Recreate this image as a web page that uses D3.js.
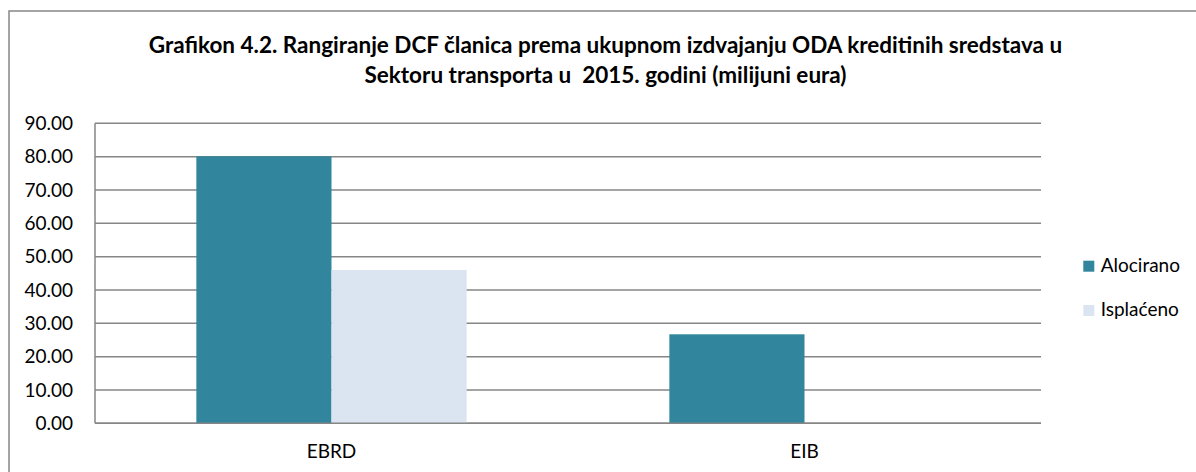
<!DOCTYPE html>
<html lang="en">
<head>
  <meta charset="UTF-8">
  <title>Grafikon 4.2</title>
  <script src="https://d3js.org/d3.v7.min.js"></script>
  <style>
    body { margin: 0; padding: 0; background: white; overflow: hidden; }
    svg text { font-family: Lato, "Open Sans", sans-serif; fill: #000; }
  </style>
</head>
<body>
  <svg id="chart" width="1196" height="472"></svg>
  <script>
    // Chart data
    const categories = ["EBRD", "EIB"];
    const seriesNames = ["Alocirano", "Isplaćeno"];
    const alocirano = [80.1, 26.7];
    const isplaceno = [46.0, 0];
    const yTicks = [0, 10, 20, 30, 40, 50, 60, 70, 80, 90];
    const titleLines = [
      "Grafikon 4.2. Rangiranje DCF članica prema ukupnom izdvajanju ODA kreditinih sredstava u",
      "Sektoru transporta u  2015. godini (milijuni eura)"
    ];
    const colors = ["#31859C", "#DBE5F1"];

    const svg = d3.select("#chart");

    // Outer chart border (runs off the right and bottom of the picture)
    svg.append("rect")
      .attr("x", 9).attr("y", 11)
      .attr("width", 1300).attr("height", 600)
      .attr("fill", "none")
      .attr("stroke", "#868686")
      .attr("stroke-width", 1.5);

    // Title
    svg.append("g").selectAll("text")
      .data(titleLines)
      .join("text")
      .attr("x", 605.5)
      .attr("y", (d, i) => 53 + i * 30)
      .attr("text-anchor", "middle")
      .attr("font-size", "22.5px")
      .attr("font-weight", "bold")
      .style("white-space", "pre")
      .text(d => d);

    // Plot area
    const plotLeft = 95, plotRight = 1041, plotTop = 123.3, plotBottom = 423.3;

    const x = d3.scaleBand()
      .domain(categories)
      .range([plotLeft, plotRight]);

    const xInner = d3.scaleBand()
      .domain(seriesNames)
      .range([0, x.bandwidth()])
      .paddingOuter(0.75);

    const y = d3.scaleLinear()
      .domain([0, 90])
      .range([plotBottom, plotTop]);

    // Gridlines
    svg.append("g").selectAll("line")
      .data(yTicks)
      .join("line")
      .attr("x1", plotLeft).attr("x2", plotRight)
      .attr("y1", d => y(d)).attr("y2", d => y(d))
      .attr("stroke", "#868686")
      .attr("stroke-width", 1.5);

    // Left axis line
    svg.append("line")
      .attr("x1", plotLeft).attr("x2", plotLeft)
      .attr("y1", plotTop).attr("y2", plotBottom)
      .attr("stroke", "#868686")
      .attr("stroke-width", 1.5);

    // Y tick labels
    svg.append("g").selectAll("text")
      .data(yTicks)
      .join("text")
      .attr("x", 73)
      .attr("y", d => y(d) + 6.7)
      .attr("text-anchor", "end")
      .attr("font-size", "19px")
      .text(d => d3.format(".2f")(d));

    // Bars
    const series = [alocirano, isplaceno];
    series.forEach((vals, si) => {
      svg.append("g").selectAll("rect")
        .data(vals.map((v, i) => ({ cat: categories[i], v })))
        .join("rect")
        .attr("x", d => x(d.cat) + xInner(seriesNames[si]))
        .attr("width", xInner.bandwidth())
        .attr("y", d => y(d.v))
        .attr("height", d => y(0) - y(d.v))
        .attr("fill", colors[si]);
    });

    // Redraw the baseline over the bars
    svg.append("line")
      .attr("x1", plotLeft).attr("x2", plotRight)
      .attr("y1", y(0)).attr("y2", y(0))
      .attr("stroke", "#868686")
      .attr("stroke-width", 1.5);

    // Category labels
    svg.append("g").selectAll("text")
      .data(categories)
      .join("text")
      .attr("x", d => x(d) + x.bandwidth() / 2)
      .attr("y", 458)
      .attr("text-anchor", "middle")
      .attr("font-size", "19px")
      .text(d => d);

    // Legend
    const legend = svg.append("g").selectAll("g")
      .data(seriesNames)
      .join("g")
      .attr("transform", (d, i) => `translate(1083.3, ${260.7 + i * 44.3})`);

    legend.append("rect")
      .attr("width", 11).attr("height", 11)
      .attr("fill", (d, i) => colors[i]);

    legend.append("text")
      .attr("x", 17.4)
      .attr("y", 11)
      .attr("font-size", "19px")
      .text(d => d);
  </script>
</body>
</html>
